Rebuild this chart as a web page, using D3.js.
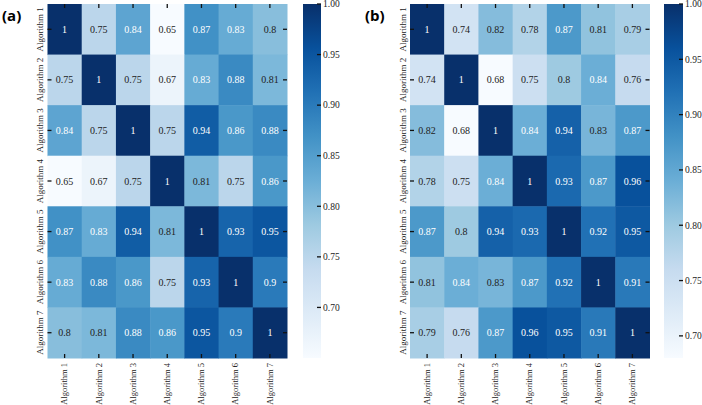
<!DOCTYPE html>
<html><head><meta charset="utf-8">
<script src="https://cdn.jsdelivr.net/npm/d3@7"></script>
<style>body{margin:0;background:#fff;}svg{display:block;}</style>
</head><body>
<svg id="chart" width="702" height="405"></svg>
<script>
const categories = ["Algorithm 1","Algorithm 2","Algorithm 3","Algorithm 4","Algorithm 5","Algorithm 6","Algorithm 7"];
const valuesA = [
  [1,0.75,0.84,0.65,0.87,0.83,0.8],
  [0.75,1,0.75,0.67,0.83,0.88,0.81],
  [0.84,0.75,1,0.75,0.94,0.86,0.88],
  [0.65,0.67,0.75,1,0.81,0.75,0.86],
  [0.87,0.83,0.94,0.81,1,0.93,0.95],
  [0.83,0.88,0.86,0.75,0.93,1,0.9],
  [0.8,0.81,0.88,0.86,0.95,0.9,1]
];
const valuesB = [
  [1,0.74,0.82,0.78,0.87,0.81,0.79],
  [0.74,1,0.68,0.75,0.8,0.84,0.76],
  [0.82,0.68,1,0.84,0.94,0.83,0.87],
  [0.78,0.75,0.84,1,0.93,0.87,0.96],
  [0.87,0.8,0.94,0.93,1,0.92,0.95],
  [0.81,0.84,0.83,0.87,0.92,1,0.91],
  [0.79,0.76,0.87,0.96,0.95,0.91,1]
];
const colorbarTicks = [0.70,0.75,0.80,0.85,0.90,0.95,1.00];
const bluesStops = ["#f7fbff","#deebf7","#c6dbef","#9ecae1","#6baed6","#4292c6","#2171b5","#08519c","#08306b"];
const panelLabels = ["(a)","(b)"];

const svg = d3.select("#chart");
const serif = "'Liberation Serif','Times New Roman',serif";

function lum(c){
  const rgb = d3.rgb(c);
  const f = v => { v/=255; return v <= 0.03928 ? v/12.92 : Math.pow((v+0.055)/1.055, 2.4); };
  return 0.2126*f(rgb.r) + 0.7152*f(rgb.g) + 0.0722*f(rgb.b);
}

function drawPanel(cfg){
  const data = cfg.values;
  const flat = data.flat();
  const vmin = d3.min(flat), vmax = d3.max(flat);
  const stopScale = d3.scaleLinear().domain(d3.range(bluesStops.length).map(i => vmin + (vmax-vmin)*i/(bluesStops.length-1))).range(bluesStops).interpolate(d3.interpolateRgb);

  const x = d3.scaleBand().domain(categories).range([cfg.left, cfg.right]);
  const y = d3.scaleBand().domain(categories).range([cfg.top, cfg.bottom]);
  const g = svg.append("g");

  const cells = [];
  data.forEach((row,i) => row.forEach((v,j) => cells.push({r:categories[i], c:categories[j], v})));

  g.selectAll("rect.cell").data(cells).join("rect")
    .attr("x", d => x(d.c)).attr("y", d => y(d.r))
    .attr("width", x.bandwidth()+0.5).attr("height", y.bandwidth()+0.5)
    .attr("fill", d => stopScale(d.v));

  g.selectAll("text.ann").data(cells).join("text")
    .attr("x", d => x(d.c) + x.bandwidth()/2)
    .attr("y", d => y(d.r) + y.bandwidth()/2)
    .attr("dy", "0.35em")
    .attr("text-anchor", "middle")
    .attr("font-family", serif).attr("font-size", 10)
    .attr("fill", d => lum(stopScale(d.v)) > 0.408 ? "#222" : "#fff")
    .text(d => d3.format("")(d.v));

  // inward tick marks on all 4 sides
  const tl = 4;
  const tk = g.append("g").attr("stroke", "#111").attr("stroke-width", 1.3);
  categories.forEach(c => {
    const cx = x(c) + x.bandwidth()/2, cy = y(c) + y.bandwidth()/2;
    tk.append("line").attr("x1", cfg.left).attr("x2", cfg.left+tl).attr("y1", cy).attr("y2", cy);
    tk.append("line").attr("x1", cfg.right).attr("x2", cfg.right-tl).attr("y1", cy).attr("y2", cy);
    tk.append("line").attr("x1", cx).attr("x2", cx).attr("y1", cfg.top).attr("y2", cfg.top+tl);
    tk.append("line").attr("x1", cx).attr("x2", cx).attr("y1", cfg.bottom).attr("y2", cfg.bottom-tl);
  });

  // y tick labels
  g.selectAll("text.yl").data(categories).join("text")
    .attr("transform", c => `translate(${cfg.left-7},${y(c)+y.bandwidth()/2}) rotate(-90)`)
    .attr("dy", "0.32em").attr("text-anchor", "middle")
    .attr("font-family", serif).attr("font-size", 9).attr("fill", "#222")
    .text(c => c);

  // x tick labels
  g.selectAll("text.xl").data(categories).join("text")
    .attr("transform", c => `translate(${x(c)+x.bandwidth()/2},${cfg.bottom+5}) rotate(-90)`)
    .attr("dy", "0.32em").attr("text-anchor", "end")
    .attr("font-family", serif).attr("font-size", 8.5).attr("fill", "#222")
    .text(c => c);

  // colorbar
  const defs = svg.append("defs");
  const gid = "grad" + cfg.id;
  const grad = defs.append("linearGradient").attr("id", gid).attr("x1", 0).attr("x2", 0).attr("y1", 1).attr("y2", 0);
  bluesStops.forEach((s,i) => grad.append("stop").attr("offset", i/(bluesStops.length-1)).attr("stop-color", s));
  g.append("rect").attr("x", cfg.cbLeft).attr("y", cfg.top).attr("width", cfg.cbWidth).attr("height", cfg.bottom-cfg.top).attr("fill", `url(#${gid})`);
  const cy = d3.scaleLinear().domain([vmin, vmax]).range([cfg.bottom, cfg.top]);
  const cbR = cfg.cbLeft + cfg.cbWidth;
  const ticks = colorbarTicks.filter(t => t >= vmin - 1e-9 && t <= vmax + 1e-9);
  g.selectAll("line.cbt").data(ticks).join("line")
    .attr("x1", cbR-4).attr("x2", cbR).attr("y1", t => cy(t)).attr("y2", t => cy(t))
    .attr("stroke", "#111").attr("stroke-width", 1.3);
  g.selectAll("text.cbl").data(ticks).join("text")
    .attr("x", cbR+2).attr("y", t => cy(t)).attr("dy", "0.35em")
    .attr("font-family", serif).attr("font-size", 9.5).attr("fill", "#222")
    .text(t => d3.format(".2f")(t));

  // panel label
  svg.append("text").attr("x", cfg.labelX).attr("y", 21)
    .attr("font-family", "'Open Sans','Noto Sans',sans-serif").attr("font-weight", "bold").attr("font-size", 15)
    .attr("fill", "#000").text(cfg.label);
}

drawPanel({id:"a", values:valuesA, left:47.5, right:287, top:4, bottom:358, cbLeft:303, cbWidth:18, labelX:2, label:panelLabels[0]});
drawPanel({id:"b", values:valuesB, left:410, right:649.5, top:4, bottom:358, cbLeft:664, cbWidth:19, labelX:365, label:panelLabels[1]});
</script>
</body></html>
